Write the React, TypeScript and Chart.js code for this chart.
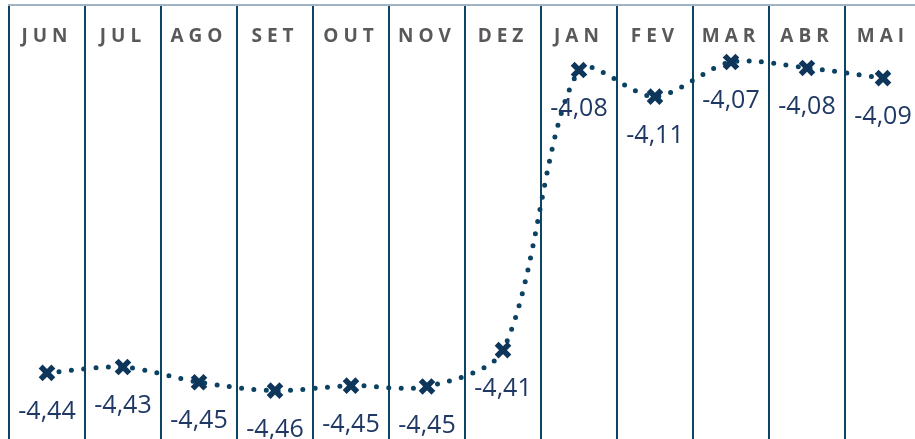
import React, { useEffect, useRef } from "react";
import { Chart, registerables } from "chart.js";
Chart.register(...registerables);

const months = ["JUN", "JUL", "AGO", "SET", "OUT", "NOV", "DEZ", "JAN", "FEV", "MAR", "ABR", "MAI"];
const values = [-4.438, -4.431, -4.449, -4.459, -4.453, -4.454, -4.411, -4.0795, -4.111, -4.07, -4.077, -4.089];
const yMin = -4.5162;
const yMax = -4.0025;

const fmt = (v: number) => v.toFixed(2).replace(".", ",");

const monthLabels = {
  id: "monthLabels",
  afterDraw(chart: any) {
    const ctx = chart.ctx;
    const x = chart.scales.x;
    ctx.save();
    ctx.font = "bold 19px 'Open Sans'";
    ctx.fillStyle = "#595959";
    ctx.textAlign = "center";
    ctx.textBaseline = "middle";
    (ctx as any).letterSpacing = "5px";
    months.forEach((m, i) => {
      ctx.fillText(m, x.getPixelForValue(i), 37);
    });
    ctx.restore();
  },
};

const valueLabels = {
  id: "valueLabels",
  afterDatasetsDraw(chart: any) {
    const ctx = chart.ctx;
    const meta = chart.getDatasetMeta(0);
    ctx.save();
    ctx.font = "25px 'Open Sans'";
    ctx.fillStyle = "#203864";
    ctx.textAlign = "center";
    ctx.textBaseline = "middle";
    meta.data.forEach((pt: any, i: number) => {
      ctx.fillText(fmt(values[i]), pt.x, pt.y + 39);
    });
    ctx.restore();
  },
};

export default function App() {
  const ref = useRef<HTMLCanvasElement>(null);
  useEffect(() => {
    if (!ref.current) return;
    const chart = new Chart(ref.current, {
      type: "line",
      data: {
        labels: months,
        datasets: [
          {
            data: values,
            borderColor: "#0b4262",
            borderWidth: 5,
            borderDash: [0, 12.3],
            borderCapStyle: "round",
            tension: 0.3,
            pointStyle: "crossRot",
            pointRadius: 9,
            pointBorderWidth: 5.5,
            pointBorderColor: "#0e355a",
            pointBackgroundColor: "#0e355a",
            fill: false,
          },
        ],
      },
      options: {
        animation: false,
        responsive: false,
        devicePixelRatio: 1,
        layout: { autoPadding: false, padding: { left: 9, right: 9, top: 5, bottom: 0 } },
        plugins: { legend: { display: false }, tooltip: { enabled: false } },
        scales: {
          x: {
            type: "category",
            position: "top",
            offset: true,
            ticks: { display: false },
            grid: { offset: true, color: "#0c4563", lineWidth: 2, drawTicks: false },
            border: { display: true, color: "#9fb3c3", width: 2 },
          },
          y: {
            display: false,
            min: yMin,
            max: yMax,
          },
        },
      },
      plugins: [monthLabels, valueLabels],
    });
    return () => chart.destroy();
  }, []);
  return (
    <div style={{ position: "fixed", left: 0, top: 0, width: 915, height: 439, overflow: "hidden", background: "#fff" }}>
      <canvas ref={ref} width={930} height={439} style={{ display: "block" }} />
    </div>
  );
}
